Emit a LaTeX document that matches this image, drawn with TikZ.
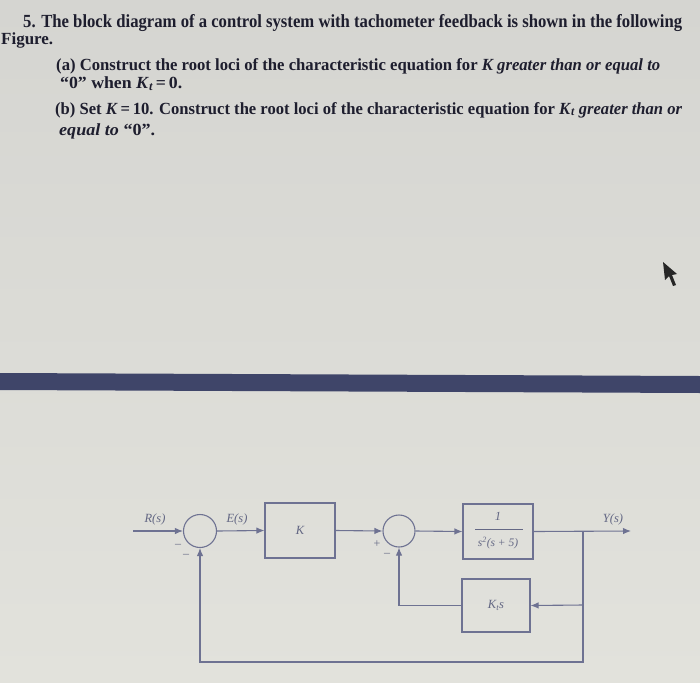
\documentclass[tikz,border=0pt]{standalone}
\usepackage{fontspec}
\setmainfont{Liberation Serif}
\usepackage{graphicx}
\usetikzlibrary{arrows.meta}
\definecolor{bgtop}{HTML}{D5D5D1}
\definecolor{bgbot}{HTML}{E2E2DC}
\definecolor{band}{HTML}{3F4569}
\definecolor{txt}{HTML}{1E1E2E}
\definecolor{ln}{HTML}{6E7292}
\definecolor{lbl}{HTML}{646884}
\newcommand{\ktx}{\textit{K}\raisebox{-1.2pt}{\fontsize{12}{12}\selectfont\textit{t}}}
\begin{document}
\begin{tikzpicture}[x=1pt,y=-1pt,
  wire/.style={draw=ln, line width=1.1pt},
  arr/.style={wire,-{Latex[length=8pt,width=6.5pt]}},
  blk/.style={draw=ln, line width=1.1pt, rectangle, inner sep=0, text=lbl, font=\fontsize{12.5}{12.5}\selectfont\itshape},
  sumc/.style={draw=ln, line width=1.1pt, circle, minimum size=33pt, inner sep=0},
  lab/.style={text=lbl, font=\fontsize{12.5}{12.5}\selectfont\itshape, inner sep=0},
  sgn/.style={text=lbl, font=\fontsize{12}{12}\selectfont, inner sep=0},
  qline/.style={text=txt, anchor=base west, inner sep=0},
]
\useasboundingbox (0,0) rectangle (700,682);
\shade[top color=bgtop, bottom color=bgbot] (0,0) rectangle (700,682);
\fill[band] (0,373) -- (700,376) -- (700,393) -- (0,390) -- cycle;

% question text
\node[qline] (t1) at (23,28) {\resizebox{659pt}{\height}{\fontsize{18.5}{18.5}\selectfont\bfseries 5. The block diagram of a control system with tachometer feedback is shown in the following}};
\node[qline] (t2) at (1,45) {\resizebox{52pt}{\height}{\fontsize{17}{17}\selectfont\bfseries Figure.}};
\node[qline] (t3) at (56,71) {\resizebox{604pt}{\height}{\fontsize{17}{17}\selectfont\bfseries (a) Construct the root loci of the characteristic equation for \textit{K greater than or equal to}}};
\node[qline] (t4) at (60,89) {\resizebox{122pt}{\height}{\fontsize{17}{17}\selectfont\bfseries “0” when \ktx\,=\,0.}};
\node[qline] (t5) at (55,114) {\resizebox{627pt}{\height}{\fontsize{17}{17}\selectfont\bfseries (b) Set \textit{K}\,=\,10. Construct the root loci of the characteristic equation for \ktx\ \textit{greater than or}}};
\node[qline] (t6) at (59,135) {\resizebox{96pt}{\height}{\fontsize{17}{17}\selectfont\bfseries \textit{equal to} “0”.}};

% cursor
\fill[black!85] (663,262) -- (665,280) -- (669,276) -- (673,286) -- (676,285) -- (672,275) -- (677,274) -- cycle;

% block diagram
\node[sumc] (s1) at (200,531) {};
\node[sumc, minimum size=32pt] (s2) at (399,531) {};
\node[blk, minimum width=70pt, minimum height=55pt] (kb) at (300,530.5) {K};
\node[blk, minimum width=70pt, minimum height=55pt] (gb) at (498,531.5) {};
\node[lab] (gnum) at (498,516) {1};
\node[lab, font=\fontsize{11.5}{11.5}\selectfont\itshape] (gden) at (498,543) {s\textsuperscript{2}(s + 5)};
\draw[draw=lbl, line width=0.6pt] (475,529) -- (523,529);
\node[blk, minimum width=68pt, minimum height=53pt] (ktb) at (496,605.5) {K\textsubscript{\itshape t}s};

\coordinate (in) at (133,531);
\coordinate (out) at (631,531);
\coordinate (br) at (583,531);
\coordinate (brk) at (583,605);
\coordinate (botl) at (200,662);

\draw[arr] (in) -- (s1.west);
\draw[arr] (s1.east) -- (kb.west);
\draw[arr] (kb.east) -- (s2.west);
\draw[arr] (s2.east) -- (gb.west);
\draw[arr] (gb.east) -- (out);
\draw[arr] (br) |- (botl) -- (s1.south);
\draw[arr] (brk) -- (ktb.east);
\draw[arr] (ktb.west) -| (s2.south);

\node[lab] (lr) at (155,519) {R(s)};
\node[lab] (le) at (237,519) {E(s)};
\node[lab] (ly) at (613,519) {Y(s)};
\node[sgn] (m1) at (178,546) {–};
\node[sgn] (m2) at (186,556) {–};
\node[sgn] (p2) at (377,544) {+};
\node[sgn] (m3) at (387,555) {–};
\end{tikzpicture}
\end{document}
